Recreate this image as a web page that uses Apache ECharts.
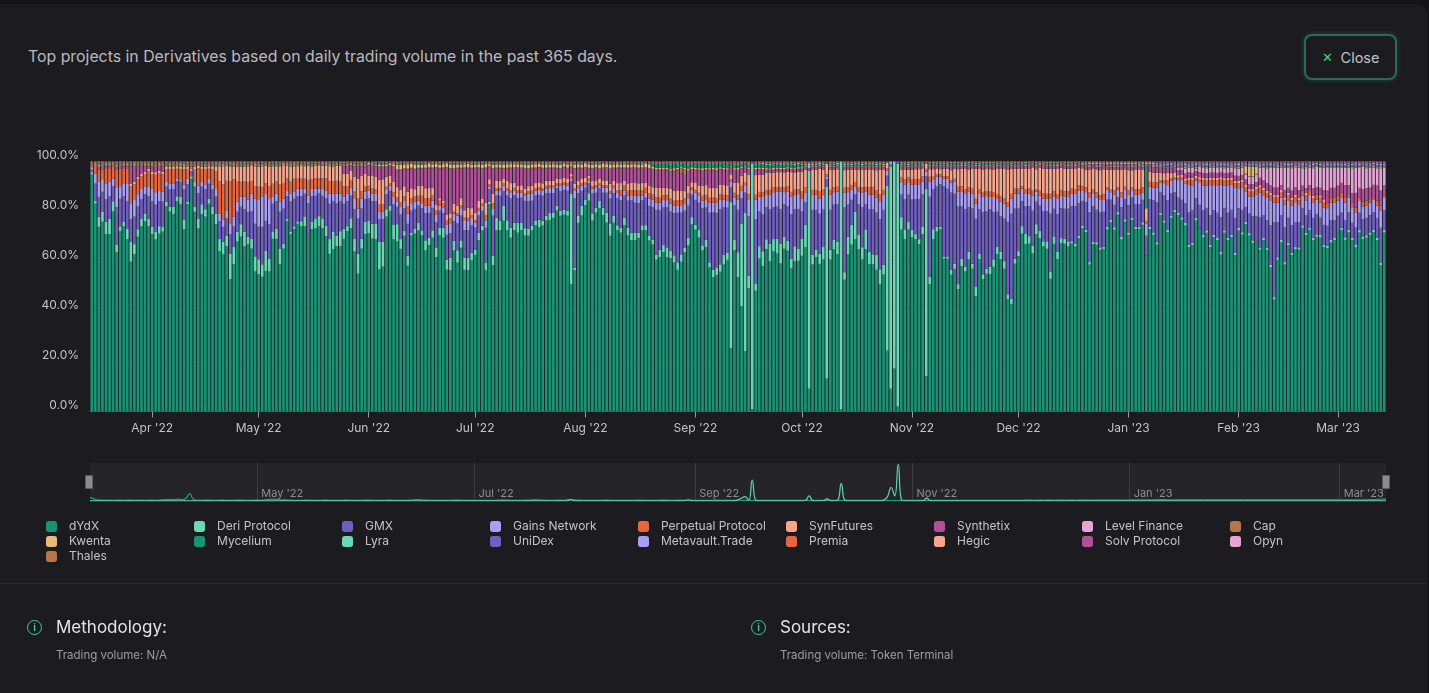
<!DOCTYPE html>
<html><head><meta charset="utf-8">
<script src="https://cdn.jsdelivr.net/npm/echarts@6.0.0/dist/echarts.min.js"></script>
<style>
html,body{margin:0;padding:0;background:#141417;width:1429px;height:693px;overflow:hidden;font-family:Inter,"Noto Sans",sans-serif;}
#panel{position:absolute;left:0;top:4px;width:1427px;height:689px;background:#1b1b20;border-radius:0 10px 0 0;}
#chart{position:absolute;left:0;top:0;width:1429px;height:693px;}
.title{position:absolute;left:28px;top:47px;font-size:15.85px;color:#b9b9bf;white-space:nowrap;}
.close{position:absolute;left:1304px;top:34px;width:89px;height:42px;border:2px solid #2c6a57;border-radius:8px;box-shadow:0 0 5px rgba(62,207,153,0.25);display:flex;align-items:center;justify-content:center;font-size:14.5px;color:#c2c2c6;}
.close .x{color:#3fcf99;margin-right:8px;font-size:13px;}
.sep{position:absolute;left:0;top:583px;width:1427px;height:1px;background:#2a2a2f;}
.ico{position:absolute;width:13px;height:13px;border:1.5px solid #3fcf99;border-radius:50%;color:#3fcf99;font-size:10px;line-height:13px;text-align:center;font-weight:600;}
.h{position:absolute;font-size:17px;color:#e4e4e8;white-space:nowrap;}
.s{position:absolute;font-size:11.5px;color:#9c9ca2;white-space:nowrap;}
#warn{position:absolute;left:600px;top:10px;color:red;font-size:14px;}
</style></head>
<body>
<div id="panel"></div>
<div class="title">Top projects in Derivatives based on daily trading volume in the past 365 days.</div>
<div class="close"><span class="x">✕</span>Close</div>
<div id="chart"></div>
<div class="sep"></div>
<div class="ico" style="left:27px;top:620px;">i</div>
<div class="h" style="left:56px;top:617px;">Methodology:</div>
<div class="s" style="left:56px;top:648px;">Trading volume: N/A</div>
<div class="ico" style="left:751px;top:620px;">i</div>
<div class="h" style="left:780px;top:617px;">Sources:</div>
<div class="s" style="left:780px;top:648px;">Trading volume: Token Terminal</div>
<div id="warn"></div>
<script>
// Daily share of derivatives trading volume (%), 2022-03-15 .. 2023-03-14
const dydx = [
96,83,74,76,71,71,80,64,72,74,
69,60,63,70,74,76,74,71,69,71,
72,82,80,79,84,83,73,83,93,80,
73,79,78,83,79,75,64,63,66,53,
59,68,70,66,67,65,56,55,54,56,
56,69,69,59,65,76,71,73,75,74,
74,70,73,73,74,73,70,63,65,66,
66,69,72,73,64,55,65,71,71,69,
69,57,58,78,80,69,69,66,71,59,
71,72,73,71,65,67,70,62,71,70,
57,57,65,60,66,57,57,61,63,69,
73,57,83,59,73,73,77,73,70,73,
72,73,71,71,73,75,74,75,77,77,
78,81,79,79,79,51,57,76,79,83,
85,77,80,82,79,76,71,76,73,72,
75,71,69,69,70,73,73,69,67,61,
62,64,62,62,60,57,61,65,67,75,
73,70,65,66,58,54,55,56,59,61,
25,65,54,42,24,50,1,49,62,59,
66,61,65,64,60,66,65,58,61,61,
63,66,9,59,62,59,61,13,61,65,
63,1,53,63,67,69,65,61,65,59,
59,57,51,55,24,9,17,2,73,69,
73,70,69,67,71,14,51,69,72,73,
61,61,55,57,49,58,56,61,57,46,
61,53,55,55,58,63,61,57,45,43,
59,62,71,67,67,63,71,69,66,65,
53,67,61,67,67,66,67,66,69,73,
72,59,67,67,65,65,73,76,73,79,
69,76,71,77,73,73,75,63,73,71,
67,79,76,72,78,80,79,77,75,66,
67,77,73,70,72,66,70,69,63,72,
69,70,63,73,71,75,72,69,69,65,
69,65,58,45,61,68,59,67,63,65,
65,74,71,73,69,70,70,66,65,68,
69,71,73,69,72,69,66,72,69,70,
71,72,69,59,72];
const deriProtocol = [
1,1,4,4,5,6,4,3,2,2,
4,8,4,3,3,3,3,3,3,3,
2,2,2,3,2,3,4,1,1,2,
4,4,3,2,3,4,5,5,4,10,
7,4,5,6,3,4,6,6,5,8,
5,3,4,6,2,1,1,1,1,2,
4,0,3,4,4,4,4,6,7,4,
6,4,2,4,5,8,4,5,5,6,
6,11,10,3,2,6,7,4,2,4,
1,2,3,2,4,3,3,4,3,4,
4,5,4,5,3,5,5,3,2,3,
2,3,1,4,5,4,6,4,4,3,
4,3,3,3,2,2,3,2,2,3,
2,2,2,2,2,36,1,3,4,2,
3,3,2,3,3,4,5,3,2,2,
3,3,3,3,2,2,2,2,2,2,
3,3,4,3,3,3,3,2,3,3,
2,3,2,3,2,3,3,3,4,3,
58,4,10,33,55,5,98,3,5,6,
4,7,5,6,8,5,4,4,6,5,
7,9,86,4,3,4,5,76,4,4,
5,98,3,7,8,11,6,5,8,5,
4,6,6,4,65,88,82,96,5,4,
3,3,2,2,3,74,3,4,2,1,
1,1,2,2,2,3,2,3,2,4,
2,2,2,3,3,3,3,3,2,2,
2,2,3,4,3,3,4,3,2,3,
3,3,3,2,2,2,1,1,1,1,
1,1,1,1,1,1,1,1,1,1,
1,1,1,1,1,1,1,0,1,1,
1,1,1,1,1,1,1,1,1,1,
1,1,0,1,1,1,1,1,1,1,
1,1,1,1,1,1,1,1,0,1,
1,1,1,1,1,1,1,1,1,1,
1,1,1,1,1,1,1,1,1,1,
1,0,1,1,1,1,1,1,1,1,
1,1,1,1,1];
const gmx = [
1,7,8,8,9,9,6,15,11,10,
11,9,11,9,8,8,9,10,11,10,
10,6,7,7,6,6,12,7,2,8,
10,7,8,6,7,7,7,6,7,8,
8,8,7,9,10,11,13,13,15,12,
14,11,11,15,14,9,12,11,10,10,
9,13,10,9,9,9,11,14,12,13,
12,10,10,9,12,14,12,9,9,9,
9,9,9,6,6,8,7,10,9,13,
9,8,7,9,11,10,9,10,7,6,
10,10,8,11,10,11,11,11,9,7,
6,14,5,16,9,10,6,10,12,11,
10,10,11,11,10,10,10,10,9,8,
8,7,8,8,8,5,28,9,6,5,
4,8,6,5,6,8,10,9,11,11,
9,11,13,12,12,10,11,12,13,18,
16,15,16,16,17,20,17,15,13,9,
10,11,15,13,20,23,22,22,19,18,
6,14,17,10,8,24,1,26,14,15,
13,14,13,13,14,13,14,18,15,16,
11,9,1,18,16,16,15,3,16,14,
15,0,26,13,10,7,12,16,10,17,
18,17,20,22,4,1,0,1,9,12,
11,12,14,16,13,5,32,16,16,17,
28,27,31,28,31,21,23,18,22,27,
18,25,23,23,19,14,14,17,29,34,
20,17,10,11,12,14,9,10,12,12,
23,11,15,12,12,13,14,15,13,10,
11,20,14,13,14,14,11,8,9,6,
12,8,11,8,9,9,9,8,11,13,
16,8,10,12,9,7,6,7,8,13,
13,8,9,10,9,12,10,10,14,9,
10,10,14,8,9,6,8,10,10,12,
9,11,16,30,14,10,14,10,11,10,
10,7,7,7,8,8,7,8,8,8,
7,7,6,7,7,6,7,7,7,7,
7,7,8,14,8];
const gainsNetwork = [
1,4,6,5,6,6,3,8,5,5,
7,6,7,5,4,3,4,5,5,4,
4,2,2,2,1,1,2,2,1,2,
3,2,2,2,2,3,3,3,3,4,
4,4,4,5,5,7,10,11,12,11,
10,3,3,4,4,2,3,3,3,3,
2,3,3,3,2,3,3,4,3,4,
3,3,3,3,4,4,4,3,3,3,
3,3,3,2,2,3,2,3,3,4,
3,3,2,2,3,3,3,3,2,2,
4,4,3,3,3,4,4,3,2,2,
2,3,1,3,2,2,2,2,2,2,
2,2,2,3,3,2,2,2,2,2,
2,1,2,2,2,1,3,2,2,1,
1,2,2,1,2,2,2,2,2,2,
2,2,2,3,3,2,2,3,3,3,
3,3,3,3,3,3,3,3,3,2,
3,3,3,3,4,4,4,4,3,3,
2,3,4,3,3,7,0,8,6,7,
5,6,6,6,7,5,6,7,6,6,
5,4,1,6,6,6,6,1,6,5,
5,0,6,5,4,3,5,6,5,6,
6,6,7,6,2,1,0,0,5,6,
5,6,6,6,5,2,6,4,4,3,
3,4,4,5,6,6,6,6,6,6,
6,6,6,5,6,5,6,6,6,6,
6,6,5,5,5,6,4,4,5,5,
6,5,6,5,5,5,5,5,5,4,
4,6,5,5,5,5,4,3,4,3,
4,4,4,3,4,4,3,5,5,5,
6,4,5,6,5,5,7,8,8,11,
10,7,9,10,9,12,10,11,13,9,
11,10,12,8,9,6,7,8,9,10,
8,9,10,8,8,7,9,7,8,8,
7,5,6,6,6,6,6,7,7,7,
7,6,6,7,6,6,6,5,5,5,
5,5,5,7,5];
const perpetualProtocol = [
0,3,5,4,6,5,5,7,7,6,
6,7,6,6,5,5,6,6,7,7,
7,5,6,6,4,4,6,4,1,5,
7,5,6,4,6,7,13,14,12,17,
15,8,6,6,7,5,5,5,4,4,
5,5,5,7,6,5,5,5,4,4,
4,6,4,4,4,4,5,5,5,5,
5,4,3,3,3,4,3,2,2,2,
2,3,3,1,1,2,2,2,2,3,
2,2,2,3,3,3,2,2,2,2,
2,2,1,1,1,1,1,1,1,1,
1,2,1,2,1,1,1,1,1,1,
1,1,1,1,1,1,1,1,1,1,
1,1,1,1,1,1,1,1,1,1,
1,1,1,1,1,1,1,1,1,2,
2,2,2,2,2,2,2,2,2,2,
2,2,2,2,2,2,2,2,2,1,
1,1,2,2,2,2,2,2,2,2,
1,2,2,2,1,2,0,2,2,2,
2,2,2,2,2,2,2,2,2,2,
3,2,0,2,2,3,2,1,2,2,
2,0,2,2,2,2,2,2,2,3,
3,3,3,2,1,0,0,0,2,2,
2,2,2,2,2,1,2,1,1,1,
1,1,1,1,2,2,2,2,2,2,
2,2,2,2,2,2,2,2,2,2,
2,2,1,2,2,2,1,2,2,2,
2,2,2,2,2,2,2,2,2,2,
2,2,2,2,2,2,1,1,2,1,
2,1,2,1,2,2,2,1,2,2,
2,1,1,2,1,1,1,1,1,2,
2,1,1,2,2,2,2,2,2,2,
2,2,2,2,2,2,2,2,2,2,
2,2,2,2,2,2,2,2,2,2,
2,2,2,2,2,2,2,2,2,2,
2,2,2,2,1,2,2,1,2,2,
1,1,2,2,1];
const synFutures = [
0,0,0,0,0,0,0,0,0,0,
0,1,1,1,1,1,1,1,1,1,
1,1,1,1,1,1,1,1,0,1,
1,1,1,1,1,2,6,7,6,6,
5,6,6,6,6,6,8,8,8,7,
8,7,6,7,7,5,6,5,5,5,
5,6,5,5,5,5,5,6,6,6,
6,5,5,4,6,8,6,5,4,5,
5,10,10,4,3,4,4,5,4,6,
4,3,4,4,4,4,3,2,1,1,
2,2,3,3,3,3,4,3,3,3,
2,5,2,4,3,3,2,3,3,2,
2,2,2,2,2,2,2,2,2,2,
2,2,2,2,2,1,2,2,2,2,
1,2,2,2,2,2,3,2,3,3,
2,3,3,3,3,3,2,3,3,4,
4,3,3,4,4,4,4,3,3,2,
3,3,4,4,4,4,4,4,4,4,
2,4,5,4,4,8,0,8,7,7,
7,7,6,6,6,6,6,8,7,7,
8,7,1,8,8,9,8,4,8,7,
7,0,7,7,6,5,7,7,7,7,
7,8,10,8,2,0,0,0,3,4,
3,4,4,4,3,2,3,3,2,2,
3,3,4,4,7,7,8,7,8,12,
8,9,9,9,9,10,11,12,13,10,
8,8,7,8,8,9,8,9,10,10,
10,9,10,9,9,9,8,8,7,7,
7,9,8,9,10,10,7,8,8,7,
9,7,8,7,8,8,7,5,4,4,
4,3,3,3,2,2,1,1,1,1,
1,1,1,1,1,1,1,1,1,1,
1,1,1,1,1,1,1,1,1,1,
1,1,1,1,1,1,1,1,1,1,
1,0,1,0,1,0,1,1,0,0,
0,0,0,0,0,0,0,0,0,0,
0,0,0,0,0];
const synthetix = [
0,0,1,1,1,1,0,1,1,1,
1,7,6,4,3,2,1,2,2,2,
2,0,0,0,0,0,0,0,0,0,
0,0,0,0,0,0,0,0,0,0,
0,0,0,0,0,0,0,0,0,0,
0,0,0,0,0,0,0,0,0,0,
0,0,0,0,0,0,0,0,0,0,
0,3,3,2,4,5,4,3,4,4,
4,5,5,4,4,6,7,8,7,9,
8,8,7,7,8,8,8,15,12,13,
19,18,14,15,12,17,16,16,18,13,
12,14,5,10,5,5,4,5,6,6,
7,7,8,7,7,6,6,6,5,5,
5,4,4,4,4,3,6,5,4,4,
3,5,5,4,5,5,6,5,6,6,
5,6,6,6,6,6,6,7,7,7,
7,7,7,7,8,8,7,7,6,5,
5,6,6,6,7,7,7,6,6,6,
3,5,5,3,2,2,0,2,2,2,
1,1,1,1,1,1,1,1,1,1,
1,1,0,1,1,1,1,0,1,1,
1,0,1,1,1,1,1,1,1,1,
1,1,1,1,0,0,0,0,1,1,
1,1,1,1,1,0,1,1,1,1,
1,1,1,1,1,1,1,1,1,1,
1,1,1,1,1,1,1,1,1,1,
1,1,1,1,1,1,1,1,1,1,
1,1,1,1,1,1,1,1,1,1,
1,1,1,1,1,1,1,1,1,1,
1,1,1,1,1,1,1,0,2,2,
2,2,2,2,2,2,2,2,2,2,
2,2,2,2,2,2,2,2,2,2,
2,2,2,2,2,2,2,2,2,3,
3,3,3,3,3,2,3,2,3,3,
3,2,2,2,3,3,3,4,5,4,
4,4,4,5,4,4,6,4,5,5,
5,5,6,6,4];
const levelFinance = [
0,0,0,0,0,0,0,0,0,0, 0,0,0,0,0,0,0,0,0,0, 0,0,0,0,0,0,0,0,0,0,
0,0,0,0,0,0,0,0,0,0, 0,0,0,0,0,0,0,0,0,0, 0,0,0,0,0,0,0,0,0,0,
0,0,0,0,0,0,0,0,0,0, 0,0,0,0,0,0,0,0,0,0, 0,0,0,0,0,0,0,0,0,0,
0,0,0,0,0,0,0,0,0,0, 0,0,0,0,0,0,0,0,0,0, 0,0,0,0,0,0,0,0,0,0,
0,0,0,0,0,0,0,0,0,0, 0,0,0,0,0,0,0,0,0,0, 0,0,0,0,0,0,0,0,0,0,
0,0,0,0,0,0,0,0,0,0, 0,0,0,0,0,0,0,0,0,0, 0,0,0,0,0,0,0,0,0,0,
0,0,0,0,0,0,0,0,0,0, 0,0,0,0,0,0,0,0,0,0, 0,0,0,0,0,0,0,0,0,0,
0,0,0,0,0,0,0,0,0,0, 0,0,0,0,0,0,0,0,0,0, 0,0,0,0,0,0,0,0,0,0,
0,0,0,0,0,0,0,0,0,0, 0,0,0,0,0,0,0,0,0,0, 0,0,0,0,0,0,0,0,0,0,
0,0,0,0,0,0,0,0,0,0, 0,0,0,0,0,0,0,0,0,0, 0,0,0,0,0,0,0,0,0,0,
0,0,0,0,0,0,1,1,2,2,
2,1,2,2,2,2,2,2,2,2,
2,2,3,3,3,2,3,3,3,4,
5,6,7,8,8,7,9,8,9,8,
9,7,8,7,8,8,8,9,9,8,
8,7,6,7,7,10,10,8,9,8,
8,7,7,9,7];
// Smaller projects, in tenths of a percent
const capTenths = [
8,6,5,7,6,5,6,7,5,6, 6,5,7,6,5,6,5,6,7,6, 6,5,6,5,6,7,5,6,4,6, 5,6,5,6,6,5,6,5,6,5,
6,5,6,5,6,5,5,6,5,6, 5,4,5,4,5,4,4,5,4,4, 4,3,4,3,3,4,3,3,4,3, 3,3,4,3,3,3,4,3,3,3,
3,3,3,3,3,3,2,3,3,3, 3,3,3,2,3,3,3,2,3,3, 3,3,2,3,3,3,3,3,2,3, 3,3,2,3,3,3,3,2,3,3,
3,2,3,3,3,3,2,3,3,3, 3,3,2,3,3,1,3,3,3,2, 3,3,3,3,2,3,3,3,3,3, 3,3,2,3,3,3,3,3,4,3,
3,4,3,3,4,5,20,20,4,3, 3,3,4,3,3,3,3,3,3,3, 1,3,3,2,1,3,0,3,3,3, 3,2,3,3,2,3,3,3,2,3,
3,3,1,3,3,2,3,1,3,3, 3,0,3,3,2,3,3,2,3,3, 3,3,2,3,1,0,0,0,3,3, 2,3,3,2,3,1,3,3,2,3,
3,2,3,3,3,2,3,3,3,2, 3,3,2,3,3,3,2,3,3,3, 2,3,3,3,2,3,3,2,3,3, 3,2,3,3,3,2,3,3,2,3,
3,3,2,3,3,2,3,3,3,2, 3,2,3,3,2,3,3,1,3,3, 2,3,3,2,3,3,2,3,3,2, 3,3,2,3,3,2,3,3,2,3,
3,2,3,3,2,3,3,2,3,3, 2,3,3,2,3,3,2,3,3,2, 3,3,2,3,3,2,3,3,2,3, 3,2,3,3,2,3,3,2,3,3,
2,3,3,2,3];
const kwentaTenths = [
3,2,3,2,3,3,2,3,2,3, 3,2,3,3,2,3,2,3,3,2, 3,2,3,3,2,3,3,2,3,3, 2,3,3,2,3,3,2,3,2,3,
3,3,2,3,3,2,3,3,3,2, 3,3,2,3,3,3,2,3,3,3, 3,2,3,3,3,2,3,3,3,3, 3,3,3,3,4,3,3,4,3,4,
4,6,6,5,5,8,20,20,15,18, 15,16,12,13,12,14,12,13,12,13, 12,13,14,12,13,12,14,13,12,13, 12,14,8,13,12,13,12,14,13,12,
13,12,13,14,12,13,12,13,14,12, 13,12,13,12,13,8,12,13,12,13, 12,13,12,13,14,12,13,12,13,12, 13,12,13,12,13,12,13,12,7,6,
6,7,6,6,7,6,5,6,6,7, 6,6,7,6,6,6,7,6,6,6, 3,6,6,5,4,6,0,6,6,6, 6,5,6,6,5,6,5,6,5,6,
5,3,1,3,3,3,3,1,3,3, 3,0,3,3,3,3,3,3,3,3, 3,3,3,3,1,0,0,0,3,3, 3,3,3,3,3,1,3,3,3,3,
3,3,3,2,3,3,3,3,2,3, 3,3,2,3,3,3,3,2,3,3, 3,2,3,3,3,2,3,3,3,3, 3,3,3,2,3,3,3,3,2,3,
3,3,2,3,3,3,2,3,3,3, 3,2,3,3,3,3,3,3,2,3, 3,3,3,2,3,3,3,2,3,3, 3,3,2,3,3,3,3,3,2,3,
3,3,3,3,3,30,40,40,30,3, 3,3,2,3,3,3,2,3,3,3, 3,2,3,3,3,3,2,3,3,3, 3,3,3,2,3,3,3,3,2,3,
3,3,2,3,3];
const myceliumTenths = [
1,1,2,1,1,1,2,1,1,1, 1,1,1,2,1,1,1,1,2,1, 1,2,1,1,1,1,1,2,1,1, 1,1,1,1,2,1,1,1,1,2,
1,1,2,1,1,1,1,1,2,1, 1,1,1,2,1,1,1,1,1,1, 2,1,1,1,1,2,1,1,1,1, 1,1,2,1,1,1,1,2,1,1,
1,2,1,1,1,1,2,1,1,1, 1,1,1,2,1,1,1,1,2,1, 1,1,2,1,1,1,1,2,1,1, 2,1,1,1,1,1,2,1,1,1,
1,1,1,2,1,1,1,1,1,2, 1,1,2,1,1,1,2,1,1,1, 1,2,1,1,1,1,1,2,1,1, 1,1,1,1,1,1,1,1,12,15,
16,14,15,18,16,15,14,16,15,13, 14,15,16,15,17,16,15,14,16,15, 8,14,12,10,8,12,0,13,12,14, 13,12,14,12,13,12,11,12,13,12,
10,5,2,4,5,4,4,2,5,4, 4,0,4,4,5,4,4,5,4,4, 4,5,4,4,1,0,0,0,4,4, 4,5,4,4,4,1,4,4,5,4,
4,4,5,4,4,4,5,4,4,4, 4,5,4,4,4,4,4,5,4,4, 2,2,3,2,2,2,3,2,2,2, 2,3,2,2,2,3,2,2,2,2,
3,2,2,2,2,2,3,2,2,2, 2,2,3,2,2,2,2,170,2,2, 2,2,3,2,2,2,2,3,2,2, 2,3,2,2,2,2,3,2,2,2,
2,2,2,3,2,2,2,2,3,2, 3,2,2,2,2,3,2,2,2,2, 2,2,3,2,2,2,3,2,2,2, 2,2,2,2,3,2,2,2,2,3,
2,2,3,2,2];
const lyraTenths = [
3,3,2,3,3,4,3,3,2,3, 3,2,3,3,4,3,3,3,2,3, 3,3,3,2,3,3,4,3,3,3, 2,3,3,3,3,4,3,3,2,3,
3,3,4,3,3,2,3,3,3,3, 3,2,3,3,3,3,4,3,3,2, 3,3,3,2,3,3,3,4,3,3, 3,3,2,3,3,3,3,3,4,3,
3,4,3,3,2,3,3,3,3,3, 2,3,3,3,4,3,3,2,3,3, 3,3,3,4,3,3,2,3,3,3, 3,2,3,3,3,3,4,3,3,3,
3,3,4,3,3,3,2,3,3,3, 3,3,3,2,3,3,4,3,3,3, 4,3,3,3,2,3,3,3,3,3, 3,3,2,3,3,4,3,3,3,3,
3,3,3,4,3,3,3,2,3,3, 3,4,3,3,3,3,3,3,2,3, 2,5,5,3,2,5,0,5,5,5, 5,6,5,5,6,5,5,5,6,5,
5,5,1,5,6,5,5,1,5,5, 5,0,5,6,5,5,5,6,5,5, 5,5,6,5,1,0,0,0,5,5, 5,4,4,4,3,1,3,3,3,3,
3,3,3,2,3,3,3,3,2,3, 3,3,2,3,3,3,3,2,3,3, 3,2,3,3,3,2,3,3,3,3, 3,3,3,2,3,3,3,3,2,3,
3,3,2,3,3,3,2,3,3,3, 3,2,3,3,3,3,3,3,2,3, 3,3,3,2,3,3,3,2,3,3, 3,3,2,3,3,3,3,3,2,3,
3,3,3,3,3,2,3,3,3,3, 3,3,2,3,3,3,2,3,3,3, 3,2,3,3,3,3,2,3,3,3, 3,3,3,2,3,3,3,3,2,3,
3,3,2,3,3];
const unidexTenths = [
2,2,3,2,2,2,1,2,2,2, 2,3,2,2,2,2,1,2,2,2, 2,2,2,3,2,2,2,1,2,2, 2,2,3,2,2,2,2,2,1,2,
2,2,2,2,3,2,2,2,2,1, 2,3,2,2,2,2,2,1,2,2, 2,2,3,2,2,1,2,2,2,2, 2,2,2,2,3,2,2,2,1,2,
2,3,2,2,2,2,1,2,2,2, 2,2,2,3,2,2,2,1,2,2, 2,2,3,2,2,2,2,2,1,2, 2,2,2,2,3,2,2,2,2,1,
2,3,2,2,2,2,2,1,2,2, 2,2,3,2,2,1,2,2,2,2, 2,2,2,2,3,2,2,2,1,2, 2,3,2,2,2,2,1,2,2,2,
2,2,2,3,2,2,2,1,2,2, 2,2,3,2,2,2,2,2,1,2, 2,2,2,2,3,2,0,2,2,1, 2,3,2,2,2,2,2,1,2,2,
2,2,1,2,2,1,2,2,2,2, 2,0,2,2,3,2,2,2,1,2, 2,3,2,2,1,0,0,0,2,2, 2,2,2,3,2,1,2,2,2,2,
2,2,3,2,2,2,2,2,1,2, 2,2,2,2,3,2,2,2,2,1, 2,3,2,2,2,2,2,1,2,2, 2,2,3,2,2,1,2,2,2,2,
2,2,2,2,3,2,2,2,1,2, 2,3,2,2,2,2,1,2,2,2, 2,2,2,3,2,2,2,1,2,2, 2,2,3,2,2,2,2,2,1,2,
2,2,2,2,3,2,2,2,2,1, 2,3,2,2,2,2,2,1,2,2, 2,2,3,2,2,1,2,2,2,2, 2,2,2,2,3,2,2,2,1,2,
2,3,2,2,2];
const metavaultTenths = [
0,0,0,0,0,0,0,0,0,0, 0,0,0,0,0,0,0,0,0,0, 0,0,0,0,0,0,0,0,0,0, 0,0,0,0,0,0,0,0,0,0,
0,0,0,0,0,0,0,0,0,0, 0,0,0,0,0,0,0,0,0,0, 0,0,0,0,0,0,0,0,0,0, 0,0,0,0,0,0,0,0,0,0,
0,0,0,0,0,0,0,0,0,0, 0,0,0,0,0,0,0,0,0,0, 0,0,0,0,0,0,0,0,0,0, 0,0,0,0,0,0,0,0,0,0,
0,0,0,0,0,0,0,0,0,0, 0,0,0,0,0,0,0,0,0,0, 0,0,0,0,0,0,0,0,0,0, 0,0,0,0,0,0,0,0,0,0,
0,0,0,0,0,0,0,0,0,0, 0,0,0,0,0,0,0,0,0,0, 0,0,0,0,0,0,0,0,0,0, 0,0,0,0,0,0,0,0,0,0,
0,0,0,0,0,0,0,0,0,0, 0,0,0,0,0,0,0,0,0,0, 0,0,0,0,0,0,0,0,0,0, 0,0,0,0,0,0,0,0,0,0,
0,0,0,0,0,0,0,0,0,0, 0,0,0,0,0,0,0,0,0,0, 0,0,0,0,0,0,0,0,0,0, 0,0,0,0,0,0,0,0,0,0,
4,5,4,5,6,4,5,4,5,6, 5,4,5,6,5,4,5,5,4,6, 5,4,5,6,5,4,5,5,6,4, 5,5,4,6,5,5,4,5,6,5,
4,5,6,5,4,5,5,6,4,5, 5,4,6,5,5,4,5,6,5,4, 5,6,5,4,5,5,6,4,5,5, 4,6,5,5,4,5,6,5,4,5,
5,4,5,6,5];
const premiaTenths = [
2,1,2,2,2,1,2,2,3,2, 2,2,1,2,2,2,3,2,2,1, 2,2,2,1,2,2,2,3,2,2, 1,2,2,2,2,1,2,3,2,2,
2,2,1,2,2,3,2,2,2,1, 2,2,2,2,1,2,2,3,2,2, 2,1,2,2,2,2,1,2,3,2, 2,2,2,1,2,2,2,2,1,2,
3,2,2,2,1,2,2,2,2,1, 2,3,2,2,2,1,2,2,2,2, 1,2,3,2,2,2,1,2,2,2, 2,1,2,3,2,2,2,1,2,2,
2,2,1,2,3,2,2,2,1,2, 2,2,2,1,2,3,2,2,2,1, 2,2,2,2,1,2,3,2,2,2, 1,2,2,2,2,1,2,3,2,2,
2,1,2,2,2,2,1,2,3,2, 2,2,1,2,2,2,2,1,2,3, 2,2,2,1,2,2,0,2,1,2, 3,2,2,2,1,2,2,2,2,1,
2,3,1,2,2,1,2,2,2,2, 1,0,3,2,2,2,1,2,2,2, 2,1,2,3,1,0,0,0,1,2, 2,2,2,1,2,1,2,2,2,2,
1,2,3,2,2,2,1,2,2,2, 2,1,2,3,2,2,2,1,2,2, 2,2,1,2,3,2,2,2,1,2, 2,2,2,1,2,3,2,2,2,1,
2,2,2,2,1,2,3,2,2,2, 1,2,2,2,2,1,2,3,2,2, 2,1,2,2,2,2,1,2,3,2, 2,2,1,2,2,2,2,1,2,3,
2,2,2,1,2,2,2,2,1,2, 3,2,2,2,1,2,2,2,2,1, 2,3,2,2,2,1,2,2,2,2, 1,2,3,2,2,2,1,2,2,2,
2,1,2,3,2];
const hegicTenths = [
1,1,1,2,1,1,1,1,2,1, 1,1,2,1,1,1,1,1,2,1, 1,2,1,1,1,1,2,1,1,1, 2,1,1,1,1,2,1,1,1,1,
1,1,1,2,1,1,1,1,2,1, 1,1,2,1,1,1,1,1,2,1, 1,2,1,1,1,1,2,1,1,1, 2,1,1,1,1,2,1,1,1,1,
1,1,1,2,1,1,1,1,2,1, 1,1,2,1,1,1,1,1,2,1, 1,2,1,1,1,1,2,1,1,1, 2,1,1,1,1,2,1,1,1,1,
1,1,1,2,1,1,1,1,2,1, 1,1,2,1,1,1,1,1,2,1, 1,2,1,1,1,1,2,1,1,1, 2,1,1,1,1,2,1,1,1,1,
1,1,1,2,1,1,1,1,2,1, 1,1,2,1,1,1,1,1,2,1, 1,2,1,1,1,1,0,1,1,1, 2,1,1,1,1,2,1,1,1,1,
1,1,0,2,1,1,1,0,2,1, 1,0,2,1,1,1,1,1,2,1, 1,2,1,1,0,0,0,0,1,1, 2,1,1,1,1,1,1,1,1,1,
1,1,1,2,1,1,1,1,2,1, 1,1,2,1,1,1,1,1,2,1, 1,2,1,1,1,1,2,1,1,1, 2,1,1,1,1,2,1,1,1,1,
1,1,1,2,1,1,1,1,2,1, 1,1,2,1,1,1,1,1,2,1, 1,2,1,1,1,1,2,1,1,1, 2,1,1,1,1,2,1,1,1,1,
1,1,1,2,1,1,1,1,2,1, 1,1,2,1,1,1,1,1,2,1, 1,2,1,1,1,1,2,1,1,1, 2,1,1,1,1,2,1,1,1,1,
1,1,1,2,1];
const solvTenths = [
0,0,0,0,0,0,0,0,0,0, 0,0,0,0,0,0,0,0,0,0, 0,0,0,0,0,0,0,0,0,0, 0,0,0,0,0,0,0,0,0,0,
0,0,0,0,0,0,0,0,0,0, 0,0,0,0,0,0,0,0,0,0, 0,0,0,0,0,0,0,0,0,0, 0,0,0,0,0,0,0,0,0,0,
0,0,0,0,0,0,0,0,0,0, 0,0,0,0,0,0,0,0,0,0, 0,0,0,0,0,0,0,0,0,0, 0,0,0,0,0,0,0,0,0,0,
0,0,0,0,0,0,0,0,0,0, 0,0,0,0,0,0,0,0,0,0, 0,0,0,0,0,0,0,0,0,0, 0,0,0,0,0,0,0,0,0,0,
0,0,0,0,0,0,0,0,0,0, 0,0,0,0,0,0,0,0,0,0, 0,0,0,0,0,0,0,0,0,0, 0,0,0,0,0,0,0,0,0,0,
0,0,0,0,0,0,0,0,0,0, 0,0,0,0,0,0,0,0,0,0, 0,0,0,0,0,0,0,0,0,0, 0,0,0,0,0,0,0,0,0,0,
0,0,0,0,0,0,0,0,0,0, 0,0,0,0,0,0,0,0,0,0, 0,0,0,0,0,0,0,0,0,0, 0,0,0,0,0,0,0,0,0,0,
0,0,0,0,0,0,0,0,0,0, 0,0,0,0,0,0,0,0,0,0, 2,3,2,2,3,2,3,2,2,3, 2,2,3,2,3,2,2,3,2,3,
3,2,2,3,2,3,2,2,3,2, 2,3,2,3,2,2,3,2,3,3, 2,2,3,2,3,2,2,3,2,3, 3,2,2,3,2,3,2,3,2,2,
3,2,3,2,2];
const opynTenths = [
1,1,2,1,1,1,1,2,1,1, 1,2,1,1,1,1,2,1,1,1, 1,1,1,2,1,1,1,1,2,1, 1,2,1,1,1,1,1,2,1,1,
1,1,2,1,1,1,1,2,1,1, 1,2,1,1,1,1,2,1,1,1, 1,1,1,2,1,1,1,1,2,1, 1,2,1,1,1,1,1,2,1,1,
1,1,2,1,1,1,1,2,1,1, 1,2,1,1,1,1,2,1,1,1, 1,1,1,2,1,1,1,1,2,1, 1,2,1,1,1,1,1,2,1,1,
1,1,2,1,1,1,1,2,1,1, 1,2,1,1,1,1,2,1,1,1, 1,1,1,2,1,1,1,1,2,1, 1,2,1,1,1,1,1,2,1,1,
1,1,2,1,1,1,1,2,1,1, 1,2,1,1,1,1,2,1,1,1, 1,1,1,2,1,1,0,1,2,1, 1,2,1,1,1,1,1,2,1,1,
1,1,0,1,1,1,1,0,1,1, 1,0,1,1,1,1,2,1,1,1, 1,1,1,2,0,0,0,0,2,1, 1,2,1,1,1,1,1,2,1,1,
1,1,2,1,1,1,1,2,1,1, 1,2,1,1,1,1,2,1,1,1, 1,1,1,2,1,1,1,1,2,1, 1,2,1,1,1,1,1,2,1,1,
1,1,2,1,1,1,1,2,1,1, 1,2,1,1,1,1,2,1,1,1, 1,1,1,2,1,1,1,1,2,1, 1,2,1,1,1,1,1,2,1,1,
1,1,2,1,1,1,1,2,1,1, 1,2,1,1,1,1,2,1,1,1, 1,1,1,2,1,1,1,1,2,1, 1,2,1,1,1,1,1,2,1,1,
1,1,2,1,1];
const thalesTenths = [
2,1,2,1,1,2,1,2,1,1, 1,2,1,1,2,1,1,1,2,1, 2,1,1,2,1,1,2,1,1,2, 1,1,2,1,2,1,1,2,1,1,
1,2,1,1,2,1,1,1,2,1, 2,1,1,2,1,1,2,1,1,2, 1,1,2,1,2,1,1,2,1,1, 1,2,1,1,2,1,1,1,2,1,
2,1,1,2,1,1,2,1,1,2, 1,1,2,1,2,1,1,2,1,1, 1,2,1,1,2,1,1,1,2,1, 2,1,1,2,1,1,2,1,1,2,
1,1,2,1,2,1,1,2,1,1, 1,2,1,1,2,1,1,1,2,1, 2,1,1,2,1,1,2,1,1,2, 1,1,2,1,2,1,1,2,1,1,
1,2,1,1,2,1,1,1,2,1, 2,1,1,2,1,1,2,1,1,2, 1,1,2,1,2,1,0,2,1,1, 1,2,1,1,2,1,1,1,2,1,
2,1,0,2,1,1,2,0,1,2, 1,0,2,1,2,1,1,2,1,1, 1,2,1,1,0,0,0,0,2,1, 2,1,1,2,1,1,2,1,1,2,
1,1,2,1,2,1,1,2,1,1, 1,2,1,1,2,1,1,1,2,1, 2,1,1,2,1,1,2,1,1,2, 1,1,2,1,2,1,1,2,1,1,
1,2,1,1,2,1,1,1,2,1, 2,1,1,2,1,1,2,1,1,2, 1,1,2,1,2,1,1,2,1,1, 1,2,1,1,2,1,1,1,2,1,
2,1,1,2,1,1,2,1,1,2, 1,1,2,1,2,1,1,2,1,1, 1,2,1,1,2,1,1,1,2,1, 2,1,1,2,1,1,2,1,1,2,
1,1,2,1,2];
// Overview strip: relative daily volume index (dYdX and Deri Protocol)
const overviewDydx = [
10,6,3,2.5,2,2.5,2,2,2.5,2, 2,2.5,2,2,2.5,2,2,2.5,2,2, 3,3.5,4,3.5,4,5,3.5,8,20,5, 2.5,2,2,2.5,2,2,2,2.5,2,2,
2,2,2.5,2,2,2,2,2.5,2,3, 4,5,5,4,3,3,2.5,2,2,2, 2,2.5,2,2,2,2,2.5,2,2,2, 2,2,2.5,2,2,2,2,2,2.5,2,
2,2,2,2,2.5,2,2,2,2,2, 2.5,3,4,3,2.5,2,2,2,2,2, 2,2,2,2.5,2,2,2,2,2,2, 2,2,2,2,2,2.5,3,2.5,2,2,
2,2,2,2.5,3,3.5,3,2.5,2,2, 2,2,2.5,2,3.5,4,3,2.5,2,2, 2,2,2,2,2,2.5,2,2,2,2, 2,2,2,2,2.5,2,2,2,2,2,
2,2.5,2,2,2,2,2.5,2,2,2, 2,2,2,2,2,2,2.5,2,2,2, 2,2,2,2,1.5,2,1,2,2,2, 2,2,2,2,2,2,2,2,2,2,
2,2,1,2,2,2,2,1.5,2,2, 2,1,2,2,2,2,2,2,2,2, 2,2,2,2,1.5,1,1.5,1,2,2, 2,2,2,2,2,1.5,2,2,2,2,
2,2,2,2,2,2,2,2,2,2, 2,2,2,2,2,2,2,2,2,2, 2,2,2,2.5,2.5,2,2,2.5,2,2.5, 2.5,2,2.5,2.5,2,2.5,2.5,2,2.5,2.5,
2.5,2.5,2,2.5,2.5,2.5,2.5,2.5,2.5,2.5, 2.5,2.5,3,3,3,3,3,3,3,3, 3.5,4,3.5,3,3,3,3.5,3,3,3, 3,3,3,3,3.5,3,3,3,3,3,
3,3,3,3.5,3,3,3,3,3,3, 3,3,3,3,3,3,3,3,3,3, 3,3,3,3,3,3,3,3,3,3, 3,3,3,3,3,3,3,3,3,3.5,
3.5,4,4.5,5,5];
const overviewDeri = [
.5,.5,.5,.5,.5,.5,.5,.5,.5,.5, .5,.5,.5,.5,.5,.5,.5,.5,.5,.5, .5,.5,.5,.5,.5,.5,.5,.5,.5,.5, .5,.5,.5,.5,.5,.5,.5,.5,.5,.5,
.5,.5,.5,.5,.5,.5,.5,.5,.5,.5, .5,.5,.5,.5,.5,.5,.5,.5,.5,.5, .5,.5,.5,.5,.5,.5,.5,.5,.5,.5, .5,.5,.5,.5,.5,.5,.5,.5,.5,.5,
.5,.5,.5,.5,.5,.5,.5,.5,.5,.5, .5,.5,.5,.5,.5,.5,.5,.5,.5,.5, .5,.5,.5,.5,.5,.5,.5,.5,.5,.5, .5,.5,.5,.5,.5,.5,.5,.5,.5,.5,
.5,.5,.5,.5,.5,.5,.5,.5,.5,.5, .5,.5,.5,.5,.5,4,.5,.5,.5,.5, .5,.5,.5,.5,.5,.5,.5,.5,.5,.5, .5,.5,.5,.5,.5,.5,.5,.5,.5,.5,
.5,.5,.5,.5,.5,.5,.5,1,3,1, .5,.5,.5,.5,.5,.5,.5,.5,.5,.5, .5,.5,3,8,12,2,57,2,.5,.5, .5,.5,.5,.5,.5,.5,.5,.5,.5,.5,
.5,2,14,1,.5,.5,1,6,1,.5, 2,48,2,.5,.5,.5,.5,.5,.5,.5, .5,.5,.5,3,12,37,14,100,2,.5, .5,.5,.5,.5,1,8,1,.5,.5,.5,
.5,.5,.5,.5,.5,.5,.5,.5,.5,.5, .5,.5,.5,.5,.5,.5,.5,.5,.5,.5, .5,.5,.5,.5,.5,.5,.5,.5,.5,.5, .5,.5,.5,.5,.5,.5,.5,.5,.5,.5,
.5,.5,.5,.5,.5,.5,.5,.5,.5,.5, .5,.5,.5,.5,.5,.5,.5,.5,.5,.5, .5,.5,.5,.5,.5,.5,.5,.5,.5,.5, .5,.5,.5,.5,.5,.5,.5,.5,.5,.5,
.5,.5,.5,.5,.5,.5,.5,.5,.5,.5, .5,.5,.5,.5,.5,.5,.5,.5,.5,.5, .5,.5,.5,.5,.5,.5,.5,.5,.5,.5, .5,.5,.5,.5,.5,.5,.5,.5,.5,.5,
.5,.5,.5,.5,.5];
const projectNames = ['dYdX','Deri Protocol','GMX','Gains Network','Perpetual Protocol','SynFutures','Synthetix','Level Finance','Cap',
  'Kwenta','Mycelium','Lyra','UniDex','Metavault.Trade','Premia','Hegic','Solv Protocol','Opyn','Thales'];
const monthNames = ['Jan','Feb','Mar','Apr','May','Jun','Jul','Aug','Sep','Oct','Nov','Dec'];
const firstDay = '2022-03-15';
const dayCount = 365;
</script>
<script>
const TENTH = 0.1;
const seriesValues = [dydx, deriProtocol, gmx, gainsNetwork, perpetualProtocol, synFutures, synthetix, levelFinance,
  capTenths.map(v=>v*TENTH), kwentaTenths.map(v=>v*TENTH), myceliumTenths.map(v=>v*TENTH), lyraTenths.map(v=>v*TENTH),
  unidexTenths.map(v=>v*TENTH), metavaultTenths.map(v=>v*TENTH), premiaTenths.map(v=>v*TENTH), hegicTenths.map(v=>v*TENTH),
  solvTenths.map(v=>v*TENTH), opynTenths.map(v=>v*TENTH), thalesTenths.map(v=>v*TENTH)];
const palette = ['#1a9274','#6ad7b6','#6f5fc0','#a89ef3','#e8663e','#f7a68b','#b24f99','#e6a4d4','#b5764e','#e2bd74'];

const bad = [];
seriesValues.forEach((a,i)=>{ if(a.length!==dayCount) bad.push(projectNames[i]+':'+a.length); });
if (overviewDydx.length!==dayCount) bad.push('ovD:'+overviewDydx.length);
if (overviewDeri.length!==dayCount) bad.push('ovR:'+overviewDeri.length);
if (bad.length) document.getElementById('warn').textContent = bad.join(' ');

const t0 = Date.parse(firstDay+'T00:00:00Z');
const dates = [];
for (let i=0;i<dayCount;i++) dates.push(new Date(t0+i*86400000).toISOString().slice(0,10));
const monthLabel = v => monthNames[+v.slice(5,7)-1] + " '" + v.slice(2,4);
const isMonthStart = (i,v) => (v||dates[i]).slice(8,10)==='01';
const isOverviewTick = (i,v) => { const d=(v||dates[i]); return d.slice(8,10)==='01' && (+d.slice(5,7))%2===1; };

const totals = dates.map((_,d)=>seriesValues.reduce((s,a)=>s+(a[d]||0),0));
const FONT = 'Inter, "Noto Sans", sans-serif';

const series = projectNames.map((name,k)=>({
  type:'bar', name, stack:'share', barCategoryGap:'24%',
  data: seriesValues[k].map((v,d)=> totals[d] ? v/totals[d]*100 : 0),
  itemStyle:{color: palette[k%10]}, emphasis:{disabled:true}, silent:true
}));
series.push({type:'line', name:'overview-dydx', xAxisIndex:1, yAxisIndex:1, data: overviewDydx, smooth:true, showSymbol:false,
  lineStyle:{width:1.2, color:'#23a07f'}, silent:true});
series.push({type:'line', name:'overview-deri', xAxisIndex:1, yAxisIndex:1, data: overviewDeri, smooth:true, showSymbol:false,
  lineStyle:{width:1.2, color:'#62d6b2'}, silent:true});

const chart = echarts.init(document.getElementById('chart'));
chart.setOption({
  animation:false,
  backgroundColor:'transparent',
  textStyle:{fontFamily:FONT},
  grid:[
    {left:90, right:43, top:161.5, height:250},
    {left:90, right:43, top:463, height:38, show:true, backgroundColor:'#242429', borderWidth:0}
  ],
  legend:{
    data: projectNames, left:41, top:514, width:1340, itemWidth:11, itemHeight:11, itemGap:0, icon:'roundRect',
    selectedMode:false,
    textStyle:{color:'#c4c4c8', fontSize:12, fontFamily:FONT, width:125, overflow:'truncate', padding:[0,0,0,7], lineHeight:15}
  },
  xAxis:[
    {type:'category', gridIndex:0, data:dates,
     axisLine:{lineStyle:{color:'#4a4a52'}},
     axisTick:{show:true, alignWithLabel:true, interval:isMonthStart, length:6, lineStyle:{color:'#9a9aa0'}},
     axisLabel:{interval:isMonthStart, formatter:monthLabel, color:'#c4c4c8', fontSize:12, margin:11, fontFamily:FONT},
     splitLine:{show:false}},
    {type:'category', gridIndex:1, data:dates, boundaryGap:false,
     axisLine:{show:false}, axisTick:{show:false},
     axisLabel:{interval:isOverviewTick, formatter:monthLabel, inside:true, color:'#8d8d93', fontSize:11, margin:2,
       align:'left', padding:[0,0,0,4], fontFamily:FONT},
     splitLine:{show:true, interval:isOverviewTick, lineStyle:{color:'#3b3b42', width:1}}}
  ],
  yAxis:[
    {type:'value', gridIndex:0, min:0, max:100, interval:20,
     axisLabel:{formatter:v=>v.toFixed(1)+'%', color:'#c4c4c8', fontSize:12, margin:11, verticalAlign:'bottom', fontFamily:FONT},
     axisLine:{show:false}, axisTick:{show:false},
     splitLine:{lineStyle:{color:'rgba(255,255,255,0.07)'}}},
    {type:'value', gridIndex:1, min:0, max:104, show:false, splitLine:{show:false}}
  ],
  dataZoom:[{
    type:'slider', xAxisIndex:0, left:87, right:43, top:463, height:38, start:0, end:100,
    showDataShadow:false, showDetail:false, brushSelect:false, moveHandleSize:0,
    backgroundColor:'rgba(0,0,0,0)', fillerColor:'rgba(0,0,0,0)', borderColor:'rgba(0,0,0,0)',
    handleIcon:'path://M0,0H7V13H0Z', handleSize:13,
    handleStyle:{color:'#8b8b90', borderColor:'#5c5c62', borderWidth:1}
  }],
  series
});
</script>
</body></html>
